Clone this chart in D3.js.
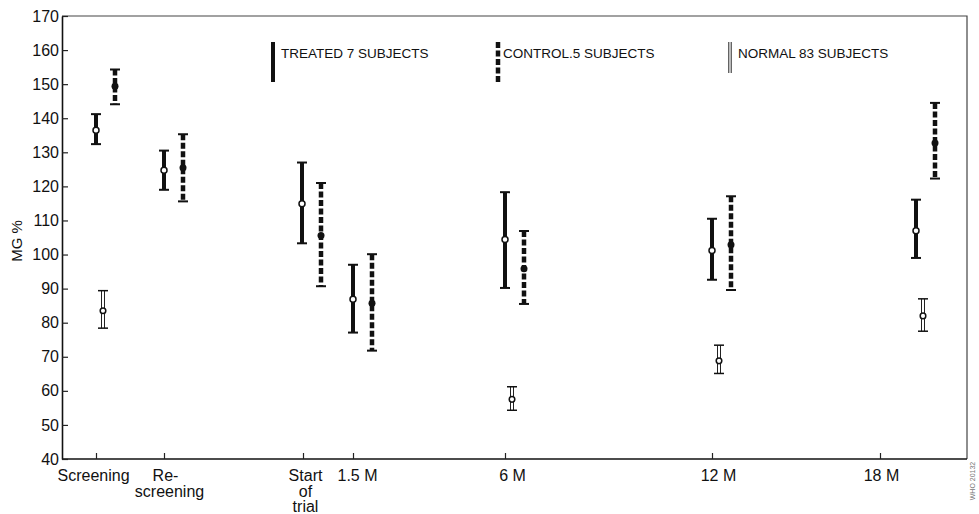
<!DOCTYPE html>
<html>
<head>
<meta charset="utf-8">
<script src="https://cdn.jsdelivr.net/npm/d3@7"></script>
<style>
  body { margin: 0; background: #fff; }
  svg { display: block; font-family: "Liberation Sans", Arial, sans-serif; }
</style>
</head>
<body>
<script>
// data (MG %)
var categories = ["Screening", "Re-screening", "Start of trial", "1.5 M", "6 M", "12 M", "18 M"];
var tickLabels = [["Screening"], ["Re-", "screening"], ["Start", "of", "trial"], ["1.5 M"], ["6 M"], ["12 M"], ["18 M"]];

var treatedMean = [136.5, 124.7, 114.9, 86.9, 104.4, 101.2, 107];
var treatedLow  = [132.4, 119.0, 103.3, 77.1, 90.2, 92.6, 99];
var treatedHigh = [141.2, 130.5, 127.0, 97.0, 118.3, 110.5, 116.1];

var controlMean = [149.4, 125.5, 105.6, 85.7, 95.8, 102.9, 132.7];
var controlLow  = [144.1, 115.6, 90.7, 71.8, 85.5, 89.6, 122.3];
var controlHigh = [154.3, 135.3, 121.0, 100.1, 106.9, 117.1, 144.5];

var normalMean = [83.5, null, null, null, 57.5, 68.8, 82];
var normalLow  = [78.4, null, null, null, 54.3, 65.1, 77.5];
var normalHigh = [89.4, null, null, null, 61.2, 73.4, 87];

var yTicks = [40, 50, 60, 70, 80, 90, 100, 110, 120, 130, 140, 150, 160, 170];

var legendLabels = ["TREATED 7 SUBJECTS", "CONTROL.5 SUBJECTS", "NORMAL 83 SUBJECTS"];

var width = 979, height = 514;
var plotLeft = 62, plotRight = 967, plotTop = 16, plotBottom = 459;

var svg = d3.select("body").append("svg")
    .attr("width", width)
    .attr("height", height);

var y = d3.scaleLinear()
    .domain([40, 170])
    .range([plotBottom, plotTop]);

// uneven time axis, positions as on the original drawing
var xTick = d3.scaleOrdinal()
    .domain(categories)
    .range([96, 164, 303, 353, 505, 712, 880]);

var xBar = d3.scaleOrdinal()
    .domain(categories)
    .range([96, 164, 302, 353, 505, 712, 916]);

// small label nudges, as typeset on the original
var labelShift = [-3, 5, 2, 4, 7, 6, 1];

// frame
svg.append("path")
    .attr("d", "M" + plotLeft + "," + plotTop + "H" + plotRight + "V" + plotBottom)
    .attr("fill", "none")
    .attr("stroke", "#444")
    .attr("stroke-width", 1.2);

svg.append("line")
    .attr("x1", plotLeft).attr("x2", plotRight)
    .attr("y1", plotBottom).attr("y2", plotBottom)
    .attr("stroke", "#111")
    .attr("stroke-width", 1.6);

var yAxis = d3.axisLeft(y)
    .tickValues(yTicks)
    .tickSize(-6)
    .tickSizeOuter(0)
    .tickPadding(3);

var gy = svg.append("g")
    .attr("transform", "translate(" + plotLeft + ",0)")
    .call(yAxis);

gy.select(".domain").attr("stroke", "#111").attr("stroke-width", 1.6);
gy.selectAll(".tick line").attr("stroke", "#222").attr("stroke-width", 1.2);
gy.selectAll(".tick text")
    .attr("font-size", 16)
    .attr("font-family", "Liberation Sans, Arial, sans-serif")
    .attr("fill", "#111");

var xAxis = d3.axisBottom(xTick)
    .tickSize(-6)
    .tickSizeOuter(0)
    .tickFormat("");

var gx = svg.append("g")
    .attr("transform", "translate(0," + plotBottom + ")")
    .call(xAxis);

gx.select(".domain").remove();
gx.selectAll(".tick line").attr("stroke", "#222").attr("stroke-width", 1.2);

gx.selectAll(".tick").each(function (d, i) {
    var t = d3.select(this).append("text")
        .attr("text-anchor", "middle")
        .attr("font-size", 16)
        .attr("fill", "#111")
        .attr("font-family", "Liberation Sans, Arial, sans-serif");
    tickLabels[i].forEach(function (line, j) {
        t.append("tspan")
            .attr("x", i === 1 && j === 0 ? 1 : labelShift[i])
            .attr("y", 22 + j * 15.5)
            .text(line);
    });
});

svg.append("text")
    .attr("transform", "translate(22,241) rotate(-90)")
    .attr("text-anchor", "middle")
    .attr("font-size", 15)
    .attr("fill", "#111")
    .text("MG %");

// series
function series(mean, low, high) {
    return categories.map(function (c, i) {
        return { cat: c, mean: mean[i], low: low[i], high: high[i] };
    }).filter(function (d) { return d.mean !== null; });
}

var treated = series(treatedMean, treatedLow, treatedHigh);
var control = series(controlMean, controlLow, controlHigh);
var normal = series(normalMean, normalLow, normalHigh);

function caps(g, data, off, sw) {
    ["low", "high"].forEach(function (k) {
        g.selectAll(".cap-" + k)
            .data(data)
            .enter().append("line")
            .attr("class", "cap-" + k)
            .attr("x1", function (d) { return xBar(d.cat) + off - 5; })
            .attr("x2", function (d) { return xBar(d.cat) + off + 5; })
            .attr("y1", function (d) { return y(d[k]); })
            .attr("y2", function (d) { return y(d[k]); })
            .attr("stroke", "#111")
            .attr("stroke-width", sw);
    });
}

// treated: solid thick bar, open mean
var gT = svg.append("g");
gT.selectAll(".bar")
    .data(treated)
    .enter().append("line")
    .attr("class", "bar")
    .attr("x1", function (d) { return xBar(d.cat); })
    .attr("x2", function (d) { return xBar(d.cat); })
    .attr("y1", function (d) { return y(d.low); })
    .attr("y2", function (d) { return y(d.high); })
    .attr("stroke", "#111")
    .attr("stroke-width", 4);
caps(gT, treated, 0, 2);
gT.selectAll(".dot")
    .data(treated)
    .enter().append("circle")
    .attr("class", "dot")
    .attr("cx", function (d) { return xBar(d.cat); })
    .attr("cy", function (d) { return y(d.mean); })
    .attr("r", 3)
    .attr("fill", "#fff")
    .attr("stroke", "#111")
    .attr("stroke-width", 1.5);

// control: dashed thick bar, filled mean
var gC = svg.append("g");
gC.selectAll(".bar")
    .data(control)
    .enter().append("line")
    .attr("class", "bar")
    .attr("x1", function (d) { return xBar(d.cat) + 19; })
    .attr("x2", function (d) { return xBar(d.cat) + 19; })
    .attr("y1", function (d) { return y(d.high); })
    .attr("y2", function (d) { return y(d.low); })
    .attr("stroke", "#111")
    .attr("stroke-width", 4.5)
    .attr("stroke-dasharray", "6,2.5");
caps(gC, control, 19, 2);
gC.selectAll(".dot")
    .data(control)
    .enter().append("circle")
    .attr("class", "dot")
    .attr("cx", function (d) { return xBar(d.cat) + 19; })
    .attr("cy", function (d) { return y(d.mean); })
    .attr("r", 3.5)
    .attr("fill", "#111");

// normal: double thin line, open mean
var gN = svg.append("g");
[-1.5, 1.5].forEach(function (dx, n) {
    gN.selectAll(".bar" + n)
        .data(normal)
        .enter().append("line")
        .attr("class", "bar" + n)
        .attr("x1", function (d) { return xBar(d.cat) + 7 + dx; })
        .attr("x2", function (d) { return xBar(d.cat) + 7 + dx; })
        .attr("y1", function (d) { return y(d.low); })
        .attr("y2", function (d) { return y(d.high); })
        .attr("stroke", "#222")
        .attr("stroke-width", 1);
});
caps(gN, normal, 7, 1.5);
gN.selectAll(".dot")
    .data(normal)
    .enter().append("circle")
    .attr("class", "dot")
    .attr("cx", function (d) { return xBar(d.cat) + 7; })
    .attr("cy", function (d) { return y(d.mean); })
    .attr("r", 2.8)
    .attr("fill", "#fff")
    .attr("stroke", "#111")
    .attr("stroke-width", 1.5);

// legend
var legX = [273, 498, 730];
var gL = svg.append("g");
gL.append("line")
    .attr("x1", legX[0]).attr("x2", legX[0])
    .attr("y1", 42).attr("y2", 82)
    .attr("stroke", "#111").attr("stroke-width", 4);
gL.append("line")
    .attr("x1", legX[1]).attr("x2", legX[1])
    .attr("y1", 42).attr("y2", 82)
    .attr("stroke", "#111").attr("stroke-width", 4.5)
    .attr("stroke-dasharray", "6,2.5");
[-1.2, 1.2].forEach(function (dx) {
    gL.append("line")
        .attr("x1", legX[2] + dx).attr("x2", legX[2] + dx)
        .attr("y1", 42).attr("y2", 73)
        .attr("stroke", "#222").attr("stroke-width", 1);
});
gL.selectAll("text")
    .data(legendLabels)
    .enter().append("text")
    .attr("x", function (d, i) { return legX[i] + (i === 1 ? 5 : 8); })
    .attr("y", 58)
    .attr("font-size", 13.5)
    .attr("fill", "#111")
    .text(function (d) { return d; });

svg.append("text")
    .attr("transform", "translate(975,481) rotate(-90)")
    .attr("text-anchor", "middle")
    .attr("font-size", 7)
    .attr("fill", "#777")
    .text("WHO 20132");
</script>
</body>
</html>
